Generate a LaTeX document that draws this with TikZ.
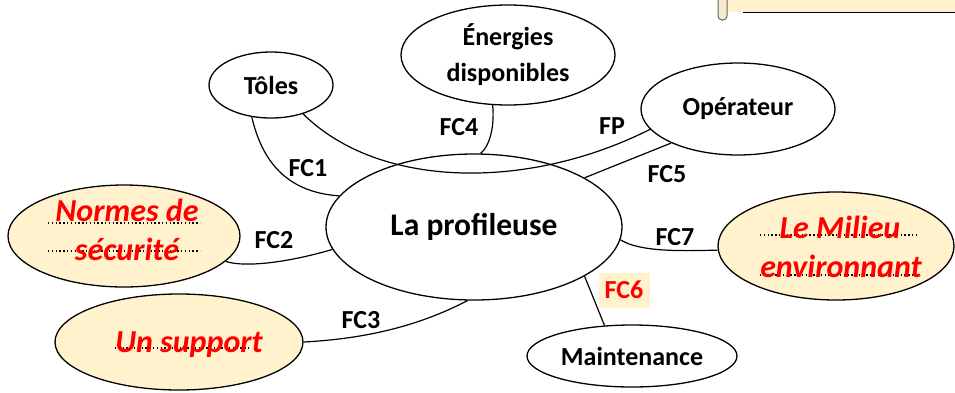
\documentclass[tikz,border=0pt]{standalone}
\usepackage{fontspec}
\setmainfont{Carlito}
\usetikzlibrary{shapes.geometric}
\definecolor{lyel}{HTML}{FFF2CC}
\definecolor{redtx}{HTML}{FF0000}
\begin{document}
\begin{tikzpicture}[x=1pt,y=-1pt,
  ell/.style={ellipse,draw,line width=1.3pt,inner sep=0pt,align=center,
    font=\fontsize{26}{30}\selectfont\bfseries},
  yell/.style={ell,fill=lyel},
  conn/.style={line width=1.2pt},
  lab/.style={font=\fontsize{26}{30}\selectfont\bfseries,inner sep=0pt},
  redtxt/.style={font=\fontsize{32}{36}\selectfont\bfseries\itshape,text=redtx,inner sep=0pt},
  dots/.style={line width=1.4pt,dash pattern=on 1.4pt off 2.4pt}
]
\useasboundingbox (0,0) rectangle (955,392);

% partial scroll shape at top right
\fill[lyel] (727,0) rectangle (955,12);
\draw[line width=1pt] (743,12) -- (955,12);
\draw[line width=1pt,fill=lyel!80!brown!60,draw=black!60,rounded corners=4pt] (718,-6) rectangle (727,20);

% nodes
\node[ell,minimum width=296pt,minimum height=146pt,font=\fontsize{31.5}{36}\selectfont\bfseries] (main) at (474,227) {La profileuse};
\node[ell,minimum width=124pt,minimum height=66pt] (tole) at (271,85) {Tôles};
\node[ell,minimum width=214pt,minimum height=100pt,font=\fontsize{26}{36}\selectfont\bfseries] (ener) at (508,55) {Énergies\\disponibles};
\node[ell,minimum width=194pt,minimum height=92pt] (oper) at (738,109) {Opérateur};
\node[yell,minimum width=232pt,minimum height=102pt] (norm) at (124,236) {};
\node[yell,minimum width=248pt,minimum height=96pt] (supp) at (179,342) {};
\node[yell,minimum width=236pt,minimum height=108pt] (mili) at (836,246) {};
\node[ell,minimum width=210pt,minimum height=62pt] (main2) at (632,356) {Maintenance};

% dotted lines
\draw[dots] (48,223) -- (200,223);
\draw[dots] (48,251) -- (200,251);
\draw[dots] (115,348) -- (250,348);
\draw[dots] (760,235) -- (918,235);
\draw[dots] (760,275) -- (918,275);

% red texts
\node[redtxt] (t1) at (127,210) {Normes de};
\node[redtxt] (t2) at (127,249) {sécurité};
\node[redtxt] (t3) at (189,345) {Un support};
\node[redtxt] (t4) at (840,227) {Le Milieu};
\node[redtxt] (t5) at (841,266) {environnant};

% connectors
\draw[conn] (tole.-121) .. controls (262,160) and (285,192) .. (main.167);
\draw[conn] (tole.-42) .. controls (380,190) and (530,190) .. (oper.193);
\draw[conn] (ener.253) .. controls (495,130) and (488,148) .. (main.85);
\draw[conn] (oper.207) -- (main.24);
\draw[conn] (norm.-14) .. controls (245,268) and (290,262) .. (main.189);
\draw[conn] (supp.0) .. controls (380,338) and (430,320) .. (main.265);
\draw[conn] (main.-5) .. controls (640,252) and (680,251) .. (mili.182);
\draw[conn] (main.-24) -- (main2.132);

% labels
\node[lab] (l1) at (308,168) {FC1};
\node[lab] (l4) at (459,127) {FC4};
\node[lab] (lp) at (612,126) {FP};
\node[lab] (l5) at (667,174) {FC5};
\node[lab] (l2) at (274,240) {FC2};
\node[lab] (l7) at (675,237) {FC7};
\node[lab] (l3) at (361,320) {FC3};
\node[lab,fill=lyel,text=redtx,minimum width=51pt,minimum height=35pt] (l6) at (624,290) {FC6};
\end{tikzpicture}
\end{document}
